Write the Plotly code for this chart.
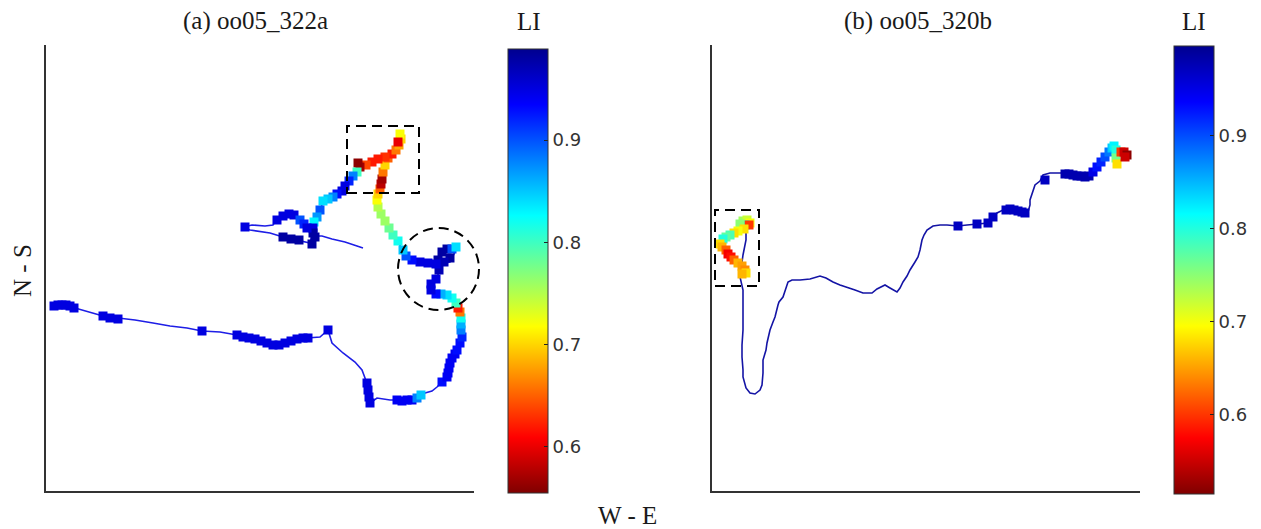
import plotly.graph_objects as go

W, H = 1261, 529

# ---------------- data (arbitrary ground units) ----------------
# (a) oo05_322a : full track (x, y)
a_path = [(7,185),(16,186),(29,183),(44,179),(57,175),(72,173),(89,171),(107,168),(124,165),(141,163),
          (156,160),(174,159),(191,156),(209,152),(222,148),(231,146),(244,150),(261,153),(274,154),(282,161),
          (286,148),(297,138),(309,129),(316,121),(319,113),(322,101),(324,88),(331,93),(344,91),(359,91),
          (371,93),(379,98),(386,100),(391,104),(396,109),(401,114),(403,123),(406,133),(411,141),(416,151),
          (415,161),(414,171),(414,179),(410,188),(404,194),(397,198),(390,197),(384,199),(385,207),(391,213),
          (394,223),(392,233),(396,241),(404,244),(411,245),(409,239),(404,229),(394,227),(384,228),(372,229),
          (362,233),(357,241),(351,251),(344,261),(338,271),(332,283),(331,294),(334,303),(336,311),(337,321),
          (341,331),(347,338),(353,346),(355,354),(350,343),(344,338),(332,331),(319,325),(312,326),(311,318),
          (304,311),(297,301),(287,294),(277,291),(274,278),(268,269),(267,259),(264,248),(251,251),(237,254),
          (224,258),(204,261),(197,264),(206,266),(219,265),(227,266),(231,272),(243,278),(249,275),(255,269),
          (261,262),(268,255),(276,255),(286,252),(299,249),(317,243)]

# (a) slow-movement samples (x, y, LI)
a_blobs = [(8,185,.95),(12,186,.95),(16,186,.95),(20,186,.95),(24,185,.95),(28,183,.95),
           (57,175,.95),(64,173,.95),(72,172,.95),(156,160,.95),
           (191,156,.95),(197,154,.95),(203,153,.95),(209,152,.95),(215,150,.95),(221,148,.95),(227,146,.95),
           (233,146,.95),(239,148,.95),(245,150,.95),(251,152,.95),(257,153,.95),(262,153,.95),(282,161,.95),
           (321,108,.95),(322,101,.95),(323,94,.95),(324,88,.95),
           (351,91,.94),(356,90,.94),(361,91,.94),(366,91,.94),(371,93,.88),(375,96,.85),
           (396,109,.93),(401,114,.94),(402,118,.94),(403,123,.94),(404,128,.94),(406,133,.94),(409,137,.94),
           (411,141,.93),(414,148,.93),(416,154,.92),
           (415,161,.88),(415,167,.86),(415,173,.82),(414,179,.66),(412,183,.62),(410,188,.80),(406,193,.82),
           (401,196,.84),(395,197,.86),(390,197,.93),(385,201,.95),(385,207,.95),(390,212,.95),(393,221,.97),
           (392,231,.98),(396,239,.98),(401,242,.98),(406,242,.90),(410,244,.84),(404,233,.98),(398,229,.97),
           (390,227,.95),(382,228,.95),(374,229,.95),(366,231,.93),(360,235,.90),(357,241,.85),(352,250,.82),
           (347,256,.80),(343,263,.78),(339,270,.76),(335,277,.76),(332,284,.75),(331,291,.72),(332,297,.70),
           (334,302,.65),(335,307,.58),(336,312,.57),(337,319,.66),(339,326,.70),(342,333,.65),(346,337,.62),
           (350,341,.66),(353,346,.68),(355,352,.70),(354,357,.72),(352,349,.60),(339,334,.63),(332,332,.62),
           (326,329,.62),(320,326,.64),(314,324,.57),(312,328,.56),(311,319,.80),(307,315,.88),(303,310,.92),
           (299,305,.95),(296,300,.95),(291,297,.93),(287,294,.88),(282,292,.85),(277,290,.84),(274,281,.90),
           (271,274,.87),(268,269,.83),(267,263,.95),(267,258,.98),(269,254,.98),(266,247,.98),
           (237,254,.98),(245,252,.98),(253,251,.98),
           (231,271,.95),(237,275,.95),(243,277,.95),(248,276,.95),(254,271,.90),(258,267,.92),(261,263,.95),
           (199,264,.95)]

# (b) oo05_320b : full track (x, y)
b_path = [(34,263),(34,251),(31,236),(29,223),(28,214),(31,201),(31,188),(31,173),(31,161),(30,146),
          (30,134),(31,121),(31,114),(34,103),(38,98),(43,97),(48,101),(50,106),(51,118),(51,131),
          (54,141),(55,148),(58,161),(61,169),(63,174),(66,186),(67,189),(71,194),(73,201),(76,209),
          (80,211),(88,211),(98,212),(108,215),(114,213),(121,209),(128,206),(135,204),(143,201),(151,198),
          (160,198),(165,202),(173,206),(178,203),(185,199),(188,203),(191,209),(195,215),(198,221),(203,229),
          (206,234),(208,241),(210,251),(212,256),(215,261),(221,265),(228,266),(235,266),(246,265),(255,266),
          (265,267),(276,268),(281,274),(285,278),(291,281),(298,282),(308,279),(313,278),(316,279),(318,286),
          (318,291),(321,299),(323,306),(328,310),(331,316),(338,318),(351,318),(358,318),(368,316),(375,314),
          (381,318),(388,328),(396,338),(401,344),(406,343),(411,338),(415,336)]

# (b) slow-movement samples (x, y, LI)
b_blobs = [(31,270,.74),(35,271,.72),(38,268,.70),(33,266,.82),(37,266,.60),(28,267,.75),(32,262,.68),
           (26,260,.70),(22,258,.68),(18,256,.78),(14,254,.77),(11,252,.80),(8,247,.68),(10,244,.66),
           (14,241,.62),(16,237,.57),(19,234,.58),(22,231,.62),(26,228,.66),(30,225,.65),(33,221,.64),
           (34,218,.68),(30,217,.66),
           (246,265,.97),(265,267,.97),(276,268,.97),(281,274,.97),(294,281,.97),(298,282,.97),(302,281,.97),
           (306,280,.97),(310,279,.97),(313,278,.97),(333,311,.97),
           (353,317,.98),(357,317,.98),(361,316,.98),(365,315,.98),(369,315,.98),(373,314,.98),(377,315,.98),
           (381,319,.95),(385,324,.93),(389,329,.92),(393,334,.90),(397,339,.88),(400,343,.84),(402,345,.82),
           (404,341,.80),(404,333,.76),(405,327,.68),(409,339,.60),(412,339,.55),(415,336,.52),(413,334,.55)]

# highlighted regions (data units): box / circle
a_box = (301, 373, 298, 365)
a_circle = (352, 433, 181, 263)
b_box = (3, 47, 205, 281)

li_ticks = [0.6, 0.7, 0.8, 0.9]
a_li_range = (0.555, 0.989)
b_li_range = (0.514, 0.997)
titles = ["(a) oo05_322a", "(b) oo05_320b"]

# ---------------- figure ----------------
jet_r = [[0, "rgb(128,0,0)"], [0.125, "rgb(255,0,0)"], [0.375, "rgb(255,255,0)"],
         [0.625, "rgb(0,255,255)"], [0.875, "rgb(0,0,255)"], [1, "rgb(0,0,143)"]]

SERIF = "Liberation Serif"
fig = go.Figure()

XR = [0, 428]
YR = [0, 446]
XDOM_A = [46 / W, 474 / W]
XDOM_B = [712 / W, 1140 / W]
YDOM = [(H - 491) / H, (H - 45) / H]


def unzip(rows, n):
    return [[r[i] for r in rows] for i in range(n)]


def add_panel(path, blobs, rng, xa, ya, line_color, cb_x, cb_top, cb_len):
    px, py = unzip(path, 2)
    bx, by, bl = unzip(blobs, 3)
    fig.add_trace(go.Scatter(x=px, y=py, mode="lines", xaxis=xa, yaxis=ya,
                             line=dict(color=line_color, width=1.6), hoverinfo="skip",
                             showlegend=False))
    fig.add_trace(go.Scatter(
        x=bx, y=by, mode="markers", xaxis=xa, yaxis=ya, showlegend=False,
        marker=dict(symbol="square", size=9, color=bl, colorscale=jet_r,
                    cmin=rng[0], cmax=rng[1], line=dict(width=0), showscale=True,
                    colorbar=dict(x=cb_x / W, xanchor="left", y=(H - cb_top) / H, yanchor="top",
                                  len=cb_len, lenmode="pixels", thickness=40,
                                  xpad=0, ypad=0, outlinewidth=1, outlinecolor="#333",
                                  tickvals=li_ticks, ticktext=[f"{v:.1f}" for v in li_ticks],
                                  ticks="inside", ticklen=4, tickcolor="#222",
                                  tickfont=dict(family="DejaVu Sans", size=18, color="#333")))))


add_panel(a_path, a_blobs, a_li_range, "x", "y", "rgb(30,30,230)", 508, 49, 444)
add_panel(b_path, b_blobs, b_li_range, "x2", "y2", "rgb(20,20,165)", 1174, 46, 448)

ax_common = dict(showline=True, linecolor="#333", linewidth=2, mirror=False, showticklabels=False,
                 ticks="", showgrid=False, zeroline=False, fixedrange=True)
fig.update_layout(
    width=W, height=H, autosize=False, margin=dict(l=0, r=0, t=0, b=0),
    paper_bgcolor="white", plot_bgcolor="white",
    xaxis=dict(domain=XDOM_A, range=XR, **ax_common),
    yaxis=dict(domain=YDOM, range=YR, **ax_common),
    xaxis2=dict(domain=XDOM_B, range=XR, anchor="y2", **ax_common),
    yaxis2=dict(domain=YDOM, range=YR, anchor="x2", **ax_common),
)


def to_paper(v, dom, rng):
    return dom[0] + (v - rng[0]) / (rng[1] - rng[0]) * (dom[1] - dom[0])


dash = "10px,6px"
for dom, (x0, x1, y0, y1), kind in [(XDOM_A, a_box, "rect"), (XDOM_A, a_circle, "circle"),
                                    (XDOM_B, b_box, "rect")]:
    # paper coords so the dashed outline is not clipped by the plot area
    fig.add_shape(type=kind, xref="paper", yref="paper",
                  x0=to_paper(x0, dom, XR), x1=to_paper(x1, dom, XR),
                  y0=to_paper(y0, YDOM, YR), y1=to_paper(y1, YDOM, YR),
                  line=dict(color="black", width=2, dash=dash))

tfont = dict(family=SERIF, size=25, color="#1a1a1a")
ann = [
    dict(x=255 / W, y=(H - 21) / H, text=titles[0]),
    dict(x=918 / W, y=(H - 21) / H, text=titles[1]),
    dict(x=528.5 / W, y=(H - 21) / H, text="LI"),
    dict(x=1194 / W, y=(H - 21) / H, text="LI"),
    dict(x=22 / W, y=(H - 271) / H, text="N - S", textangle=-90),
    dict(x=627 / W, y=(H - 515) / H, text="W - E"),
]
for a in ann:
    fig.add_annotation(xref="paper", yref="paper", showarrow=False, xanchor="center",
                       yanchor="middle", font=tfont, **a)

fig.write_html("out.html", config={"displayModeBar": False},
               post_script="document.body.style.margin='0';"
               "document.body.style.overflow='hidden';")
